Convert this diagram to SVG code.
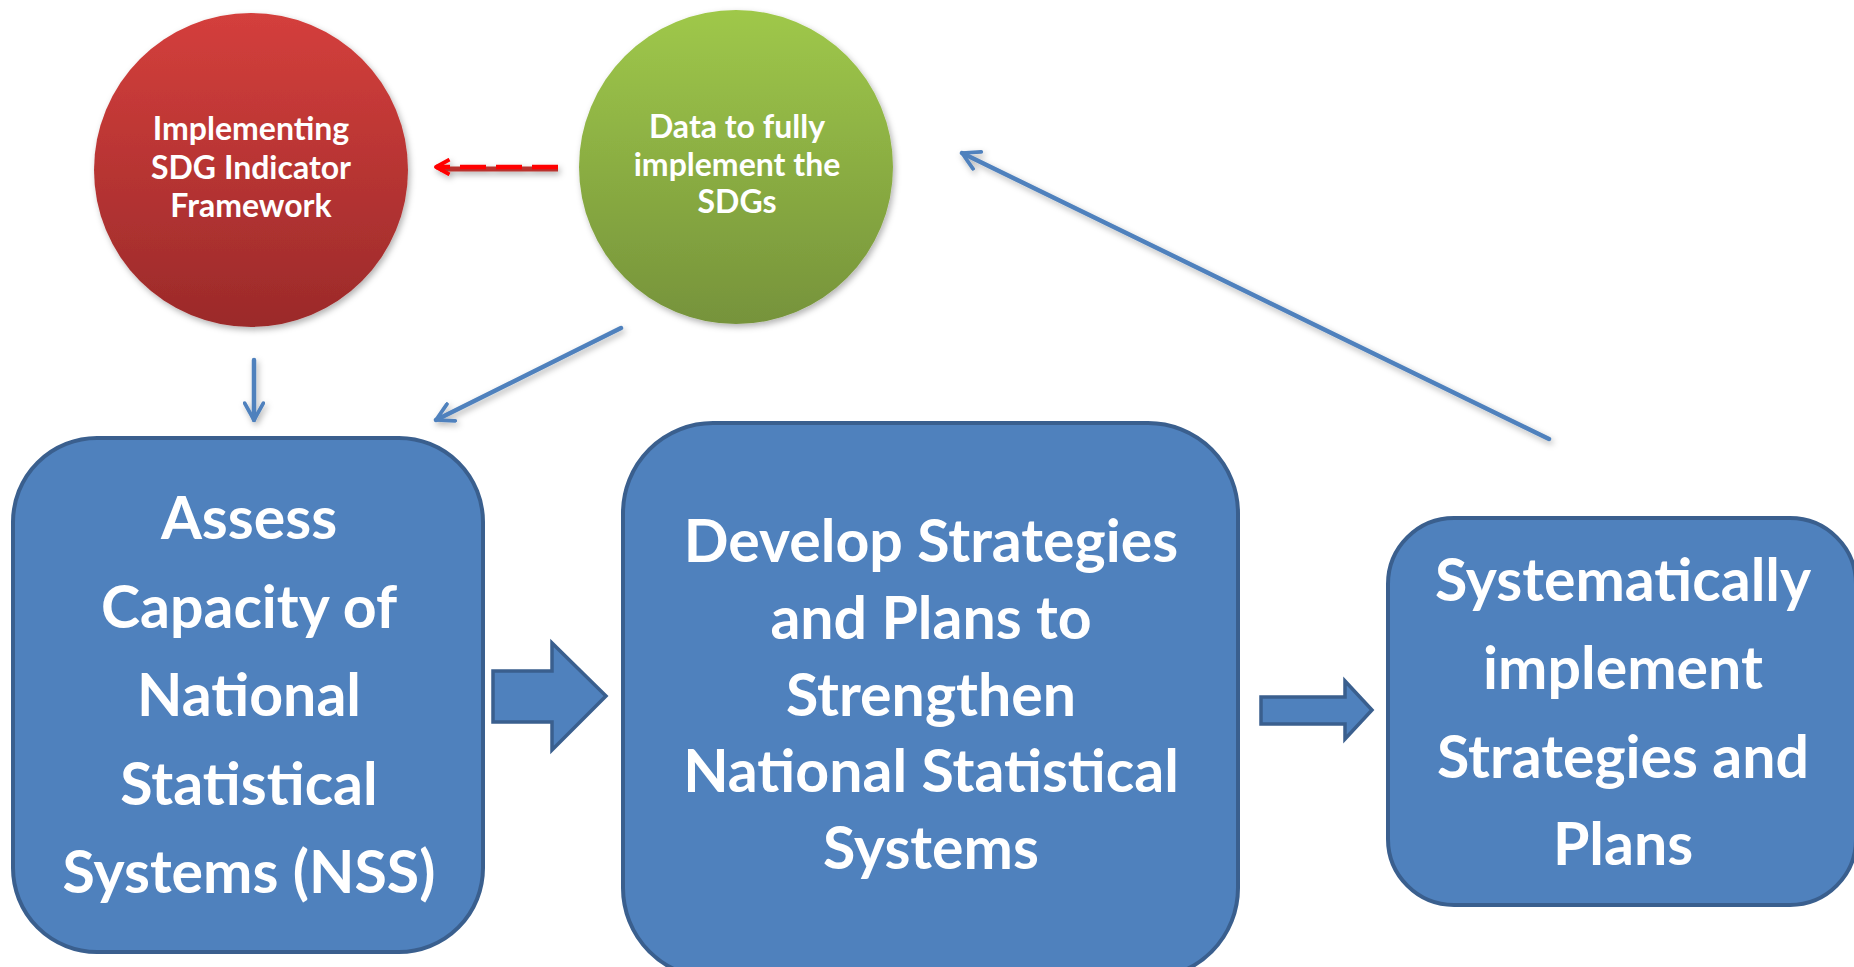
<svg xmlns="http://www.w3.org/2000/svg" width="1854" height="967" viewBox="0 0 1854 967">
<defs>
  <linearGradient id="gRed" x1="0" y1="0" x2="0" y2="1">
    <stop offset="0" stop-color="#d43f3c"/>
    <stop offset="1" stop-color="#9b2a2a"/>
  </linearGradient>
  <linearGradient id="gGreen" x1="0" y1="0" x2="0" y2="1">
    <stop offset="0" stop-color="#9fc84a"/>
    <stop offset="1" stop-color="#76933b"/>
  </linearGradient>
  <filter id="sh" filterUnits="userSpaceOnUse" x="0" y="0" width="1854" height="967">
    <feDropShadow dx="2" dy="3" stdDeviation="3" flood-color="#000" flood-opacity="0.3"/>
  </filter>
  <marker id="vBlue" viewBox="0 0 12 12" refX="10" refY="6" markerWidth="5" markerHeight="5" markerUnits="strokeWidth" orient="auto">
    <path d="M1,1 L10,6 L1,11" fill="none" stroke="#4f81bd" stroke-width="2" stroke-linecap="round" stroke-linejoin="round"/>
  </marker>
  <marker id="vRed" viewBox="0 0 12 12" refX="10" refY="6" markerWidth="4" markerHeight="4" markerUnits="strokeWidth" orient="auto">
    <path d="M1,1 L10,6 L1,11" fill="none" stroke="#ff0000" stroke-width="2.5" stroke-linejoin="round"/>
  </marker>
</defs>
<style>
  .box { fill:#4f81bd; stroke:#3a5f8e; stroke-width:4; }
  .big { font-family:Lato, "Open Sans", sans-serif; font-weight:700; font-size:59px; fill:#ffffff; text-anchor:middle; }
  .small { font-family:Lato, "Open Sans", sans-serif; font-weight:700; font-size:32px; fill:#ffffff; text-anchor:middle; }
  .conn { fill:none; stroke:#4f81bd; stroke-width:4.5; stroke-linecap:round; }
  .block { fill:#4f81bd; stroke:#3a5f8e; stroke-width:3.5; stroke-linejoin:miter; }
</style>

<g id="connectors">
  <line class="conn" x1="254" y1="360" x2="254" y2="420" marker-end="url(#vBlue)" filter="url(#sh)"/>
  <line class="conn" x1="621" y1="328" x2="436" y2="420" marker-end="url(#vBlue)" filter="url(#sh)"/>
  <line class="conn" x1="1549" y1="439" x2="962" y2="153" marker-end="url(#vBlue)" filter="url(#sh)"/>
  <g id="redArrow" filter="url(#sh)">
    <line x1="558" y1="169" x2="440" y2="169" stroke="#b8302d" stroke-width="5"/>
    <line x1="558" y1="167" x2="436" y2="167" stroke="#ff0000" stroke-width="4.5" stroke-dasharray="26,10" marker-end="url(#vRed)"/>
  </g>
  <path id="block1" class="block" d="M493,671 L552,671 L552,643 L606,696 L552,750 L552,722 L493,722 Z"/>
  <path id="block2" class="block" d="M1261,697 L1345,697 L1345,681 L1372,710 L1345,739 L1345,724 L1261,724 Z"/>
</g>

<g id="node-indicator">
  <circle cx="251" cy="170" r="157" fill="url(#gRed)" filter="url(#sh)"/>
  <text class="small" x="251" y="140">Implementing</text>
  <text class="small" x="251" y="179">SDG Indicator</text>
  <text class="small" x="251" y="217">Framework</text>
</g>

<g id="node-data">
  <circle cx="736" cy="167" r="157" fill="url(#gGreen)" filter="url(#sh)"/>
  <text class="small" x="737" y="138">Data to fully</text>
  <text class="small" x="737" y="176">implement the</text>
  <text class="small" x="737" y="213">SDGs</text>
</g>

<g id="node-assess">
  <rect class="box" x="13" y="438" width="470" height="514" rx="84" ry="84"/>
  <text class="big" x="249" y="539">Assess</text>
  <text class="big" x="249" y="628">Capacity of</text>
  <text class="big" x="249" y="716">National</text>
  <text class="big" x="249" y="805">Statistical</text>
  <text class="big" x="249" y="893">Systems (NSS)</text>
</g>

<g id="node-develop">
  <rect class="box" x="623" y="423" width="615" height="555" rx="90" ry="90"/>
  <text class="big" x="931" y="562">Develop Strategies</text>
  <text class="big" x="931" y="639">and Plans to</text>
  <text class="big" x="931" y="716">Strengthen</text>
  <text class="big" x="931" y="792">National Statistical</text>
  <text class="big" x="931" y="869">Systems</text>
</g>

<g id="node-implement">
  <rect class="box" x="1388" y="518" width="468" height="387" rx="66" ry="66"/>
  <text class="big" x="1623" y="601">Systematically</text>
  <text class="big" x="1623" y="689">implement</text>
  <text class="big" x="1623" y="778">Strategies and</text>
  <text class="big" x="1623" y="865">Plans</text>
</g>
</svg>
